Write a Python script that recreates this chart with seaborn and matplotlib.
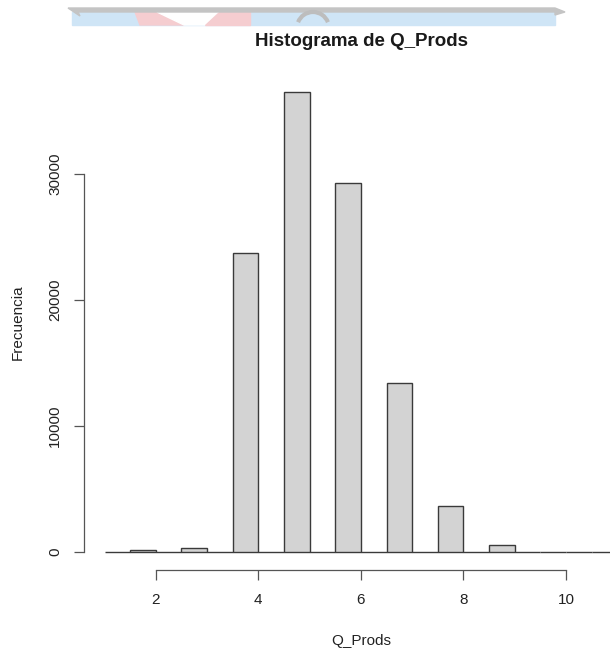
import numpy as np
import pandas as pd
import matplotlib
matplotlib.use("Agg")
import matplotlib.pyplot as plt
from matplotlib.patches import Polygon, Rectangle, Arc
import seaborn as sns

# Frequency table of Q_Prods (number of products)
q_prods = [2, 3, 4, 5, 6, 7, 8, 9, 10, 11]
frecuencia = [120, 320, 23700, 36500, 29300, 13400, 3650, 530, 30, 4]
breaks = [1.0 + 0.5 * i for i in range(21)]
x_ticks = [2, 4, 6, 8, 10]
y_ticks = [0, 10000, 20000, 30000]

# right-closed bins (k-0.5, k]: each integer is placed in the bin ending at it
tabla = pd.DataFrame({
    "Q_Prods": np.array(q_prods, dtype=float) - 0.25,
    "Frecuencia": np.array(frecuencia, dtype=float),
})

sns.set_style("ticks")
plt.rcParams["font.family"] = ["Liberation Sans", "DejaVu Sans"]

W, H = 610, 652
fig = plt.figure(figsize=(W / 100, H / 100), dpi=100)


def fx(px):
    return px / W


def fy(py):
    return 1 - py / H


# plot region in pixel terms (R style: axes sit on the region edges)
left, right, top, bottom = 84, 637.75, 73.7, 570.4
ax = fig.add_axes([fx(left), fy(bottom), (right - left) / W, (bottom - top) / H])

sns.histplot(
    data=tabla,
    x="Q_Prods",
    weights="Frecuencia",
    bins=breaks,
    color="#D3D3D3",
    edgecolor="#3a3a3a",
    linewidth=1.0,
    alpha=1.0,
    ax=ax,
)

ymax = max(frecuencia)
span = breaks[-1] - breaks[0]
ax.set_xlim(breaks[0] - 0.04 * span, breaks[-1] + 0.04 * span)
ax.set_ylim(-0.04 * ymax, 1.04 * ymax)
ax.set_xticks(x_ticks)
ax.set_yticks(y_ticks)
ax.set_xticklabels([str(t) for t in x_ticks])
ax.set_yticklabels([str(t) for t in y_ticks])
ax.set_xlabel("")
ax.set_ylabel("")

for side in ["top", "right"]:
    ax.spines[side].set_visible(False)
for side in ["left", "bottom"]:
    ax.spines[side].set_color("#555555")
    ax.spines[side].set_linewidth(0.9)
ax.spines["bottom"].set_bounds(x_ticks[0], x_ticks[-1])
ax.spines["left"].set_bounds(y_ticks[0], y_ticks[-1])

ax.tick_params(axis="both", direction="out", length=7.2, width=0.9,
               color="#555555", labelsize=11, labelcolor="#222222")
ax.tick_params(axis="x", pad=9.0)
ax.tick_params(axis="y", pad=8.4, labelrotation=90)
for lbl in ax.get_yticklabels():
    lbl.set_verticalalignment("center")

fig.text(fx(362), fy(41), "Histograma de Q_Prods", ha="center", va="center",
         fontsize=13.5, fontweight="bold", color="#1a1a1a")
fig.text(fx(361), fy(645), "Q_Prods", ha="center", va="baseline",
         fontsize=11, color="#222222")
fig.text(fx(18), fy(322), "Frecuencia", ha="center", va="center",
         rotation=90, fontsize=11, color="#222222")

# page banner strip along the top edge
tr = fig.transFigure
banner = [
    Rectangle((fx(72), fy(25)), (555 - 72) / W, 13 / H, color="#cfe5f6", transform=tr),
    Polygon([(fx(135), fy(12)), (fx(157), fy(12)), (fx(184), fy(25)), (fx(140), fy(25))],
            closed=True, color="#f5cdd0", transform=tr),
    Polygon([(fx(157), fy(12)), (fx(219), fy(12)), (fx(205), fy(25)), (fx(184), fy(25))],
            closed=True, color="#ffffff", transform=tr),
    Polygon([(fx(219), fy(12)), (fx(250), fy(12)), (fx(250), fy(25)), (fx(205), fy(25))],
            closed=True, color="#f5cdd0", transform=tr),
    Polygon([(fx(68), fy(8)), (fx(555), fy(8)), (fx(565), fy(12)), (fx(555), fy(15)),
             (fx(555), fy(12)), (fx(78), fy(12)), (fx(80), fy(16))],
            closed=True, color="#c4c4c4", transform=tr),
    Arc((fx(313), fy(28)), 32 / W, 32 / H, theta1=20, theta2=160,
        color="#bdbdbd", linewidth=3, transform=tr),
]
for p in banner:
    fig.patches.append(p)

fig.savefig("out.png", dpi=100)
